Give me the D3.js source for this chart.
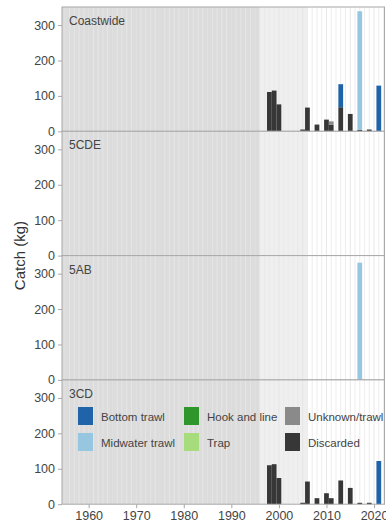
<!DOCTYPE html>
<html>
<head>
<meta charset="utf-8">
<script src="https://cdn.jsdelivr.net/npm/d3@7"></script>
<style>
  body { margin: 0; background: #fff; }
  text { font-family: "Liberation Sans", Arial, sans-serif; }
</style>
</head>
<body>
<div id="chart"></div>
<script>
// panels, gears and years
const areas = ["Coastwide", "5CDE", "5AB", "3CD"];
const gears = ["Bottom trawl", "Midwater trawl", "Hook and line", "Trap", "Unknown/trawl", "Discarded"];
const gearColors = ["#1f63a8", "#97c6e0", "#2e962a", "#a6dc7c", "#8a8a8a", "#373737"];
const stackOrder = ["Discarded", "Unknown/trawl", "Hook and line", "Trap", "Midwater trawl", "Bottom trawl"];
const years = [1998, 1999, 2000, 2005, 2006, 2008, 2010, 2011, 2013, 2015, 2017, 2019, 2021];

// catch (kg) by year, per area and gear
const coastwideDiscarded = [111, 115, 76, 5, 67, 19, 33, 19, 68, 49, 4, 5, 0];
const coastwideUnknown   = [0, 0, 0, 0, 0, 0, 0, 9, 0, 0, 0, 0, 0];
const coastwideBottom    = [0, 0, 0, 0, 0, 0, 0, 0, 65, 0, 0, 0, 129];
const coastwideMidwater  = [0, 0, 0, 0, 0, 0, 0, 0, 0, 0, 335, 0, 0];
const area5abMidwater    = [0, 0, 0, 0, 0, 0, 0, 0, 0, 0, 331, 0, 0];
const area3cdDiscarded   = [110, 113, 74, 4, 64, 17, 31, 17, 67, 46, 4, 4, 0];
const area3cdBottom      = [0, 0, 0, 0, 0, 0, 0, 0, 0, 0, 0, 0, 122];

const yTicks = [0, 100, 200, 300];
const xTicks = [1960, 1970, 1980, 1990, 2000, 2010, 2020];
const shadeDark = [1954, 1996];
const shadeLight = [1996, 2006];

const zeros = years.map(() => 0);
const seriesByArea = {
  "Coastwide": { "Discarded": coastwideDiscarded, "Unknown/trawl": coastwideUnknown, "Bottom trawl": coastwideBottom, "Midwater trawl": coastwideMidwater },
  "5CDE": {},
  "5AB": { "Midwater trawl": area5abMidwater },
  "3CD": { "Discarded": area3cdDiscarded, "Bottom trawl": area3cdBottom }
};

const W = 386, H = 527;
const plotLeft = 62, plotRight = 384.5, plotTop = 7, panelH = 124.3;

const svg = d3.select('#chart').append('svg')
  .attr('width', W).attr('height', H);

const x = d3.scaleLinear().domain([1954.4, 2022.2]).range([plotLeft, plotRight]);
const y = d3.scaleLinear().domain([0, 351]).range([panelH, 0]);
const color = d3.scaleOrdinal().domain(gears).range(gearColors);

const allYears = d3.range(1955, 2023);

areas.forEach(function (area, i) {
  const g = svg.append('g').attr('transform', 'translate(0,' + (plotTop + i * panelH) + ')');

  g.append('rect').attr('x', plotLeft).attr('y', 0)
    .attr('width', plotRight - plotLeft).attr('height', panelH).attr('fill', '#fff');
  g.append('rect').attr('x', plotLeft).attr('y', 0)
    .attr('width', x(shadeDark[1]) - plotLeft).attr('height', panelH).attr('fill', '#dcdcdc');
  g.append('rect').attr('x', x(shadeLight[0])).attr('y', 0)
    .attr('width', x(shadeLight[1]) - x(shadeLight[0])).attr('height', panelH).attr('fill', '#efefef');

  // year grid lines
  g.selectAll('.vgrid').data(allYears).enter().append('line')
    .attr('x1', d => x(d)).attr('x2', d => x(d))
    .attr('y1', 0).attr('y2', panelH)
    .attr('stroke', d => d % 5 === 0 ? '#e2e2e2' : '#e9e9e9')
    .attr('stroke-width', 0.8);

  // stacked bars
  const src = seriesByArea[area];
  const rows = years.map(function (yr, j) {
    const r = { year: yr };
    stackOrder.forEach(k => { r[k] = (src[k] || zeros)[j]; });
    return r;
  });
  const stacked = d3.stack().keys(stackOrder)(rows);
  g.selectAll('.layer').data(stacked).enter().append('g')
    .attr('fill', d => color(d.key))
    .selectAll('rect').data(d => d.filter(p => p[1] - p[0] > 0)).enter().append('rect')
    .attr('x', d => x(d.data.year - 0.5))
    .attr('width', x(1) - x(0))
    .attr('y', d => y(d[1]))
    .attr('height', d => y(d[0]) - y(d[1]));

  // border
  g.append('rect').attr('x', plotLeft).attr('y', 0)
    .attr('width', plotRight - plotLeft).attr('height', panelH)
    .attr('fill', 'none').attr('stroke', '#a8a8a8').attr('stroke-width', 1);

  // y axis
  const ya = g.append('g').attr('transform', 'translate(' + plotLeft + ',0)')
    .call(d3.axisLeft(y).tickValues(yTicks).tickSize(4).tickPadding(3));
  ya.select('.domain').remove();
  ya.selectAll('line').attr('stroke', '#a8a8a8');
  ya.selectAll('text').attr('fill', '#444').style('font-size', '12.5px');

  g.append('text').attr('x', plotLeft + 7).attr('y', 18)
    .attr('fill', '#444').style('font-size', '12px').text(area);

  if (i === areas.length - 1) {
    const xa = g.append('g').attr('transform', 'translate(0,' + panelH + ')')
      .call(d3.axisBottom(x).tickValues(xTicks).tickFormat(d3.format('d')).tickSize(4).tickPadding(3));
    xa.select('.domain').remove();
    xa.selectAll('line').attr('stroke', '#a8a8a8');
    xa.selectAll('text').attr('fill', '#444').style('font-size', '12.5px');

    // legend
    const cols = [78, 184, 285];
    const rowsY = [407, 433];
    const legendOrder = [["Bottom trawl", "Hook and line", "Unknown/trawl"], ["Midwater trawl", "Trap", "Discarded"]];
    legendOrder.forEach(function (row, ri) {
      row.forEach(function (name, ci) {
        const lg = svg.append('g').attr('transform', 'translate(' + cols[ci] + ',' + rowsY[ri] + ')');
        lg.append('rect').attr('width', 15).attr('height', 18).attr('fill', color(name));
        lg.append('text').attr('x', 23).attr('y', 13.5)
          .attr('fill', '#444').style('font-size', '11.5px').text(name);
      });
    });
  }
});

svg.append('text')
  .attr('transform', 'translate(25,' + (plotTop + 2 * panelH) + ') rotate(-90)')
  .attr('text-anchor', 'middle')
  .attr('fill', '#333').style('font-size', '15px')
  .text('Catch (kg)');
</script>
</body>
</html>
